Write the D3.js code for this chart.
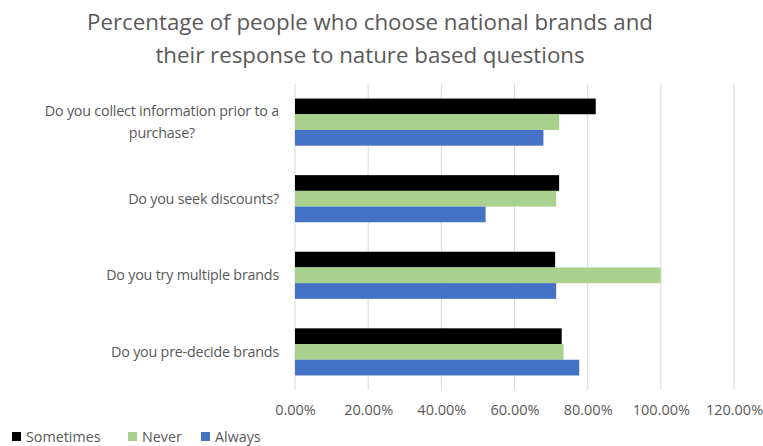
<!DOCTYPE html>
<html>
<head>
<meta charset="utf-8">
<script src="https://cdn.jsdelivr.net/npm/d3@7"></script>
<style>
  html, body { margin: 0; padding: 0; background: #fff; }
  svg { display: block; font-family: "Open Sans", "Noto Sans", sans-serif; }
</style>
</head>
<body>
<svg id="chart" width="763" height="446"></svg>
<script>
// Questions (top to bottom) and the share of each answer among national-brand buyers
const categories = [
  ["Do you collect information prior to a", "purchase?"],
  ["Do you seek discounts?"],
  ["Do you try multiple brands"],
  ["Do you pre-decide brands"]
];
const seriesNames = ["Sometimes", "Never", "Always"];
const sometimes = [0.822, 0.722, 0.711, 0.729];
const never     = [0.722, 0.714, 1.000, 0.734];
const always    = [0.679, 0.521, 0.714, 0.777];
const tickValues = [0, 0.2, 0.4, 0.6, 0.8, 1.0, 1.2];
const colors = ["#000000", "#a9d18e", "#4472c4"];
const titleLines = [
  "Percentage of people who choose national brands and",
  "their response to nature based questions"
];

const series = [sometimes, never, always];
const svg = d3.select("#chart");
const margin = { left: 295, right: 29, top: 84, bottom: 56 };
const W = 763, H = 446;

const x = d3.scaleLinear().domain([0, 1.2]).range([margin.left, W - margin.right]);
const y = d3.scaleBand().domain(d3.range(categories.length))
  .range([margin.top, H - margin.bottom]).paddingInner(0.385).paddingOuter(0.19);
const ySub = d3.scaleBand().domain(d3.range(series.length)).range([0, y.bandwidth()]);

// Title
svg.append("g").selectAll("text").data(titleLines).join("text")
  .attr("x", 370).attr("y", (d, i) => 30 + i * 33)
  .attr("text-anchor", "middle")
  .attr("fill", "#595959").attr("font-size", 22.3)
  .text(d => d);

// Vertical gridlines
svg.append("g").selectAll("line").data(tickValues).join("line")
  .attr("x1", d => x(d)).attr("x2", d => x(d))
  .attr("y1", margin.top).attr("y2", H - margin.bottom)
  .attr("stroke", "#d9d9d9").attr("stroke-width", 1);

// Bars
const groups = svg.append("g").selectAll("g").data(categories).join("g")
  .attr("transform", (d, i) => `translate(0,${y(i)})`);
groups.selectAll("rect").data((d, i) => series.map((s, j) => ({ v: s[i], j })))
  .join("rect")
  .attr("x", x(0))
  .attr("y", d => ySub(d.j))
  .attr("width", d => x(d.v) - x(0))
  .attr("height", ySub.bandwidth())
  .attr("fill", d => colors[d.j]);

// Category labels: single lines right-aligned, wrapped labels centred as a block
const labelRight = 279;
const catLabels = svg.append("g").selectAll("text").data(categories).join("text")
  .attr("fill", "#595959").attr("font-size", 14.3).attr("letter-spacing", -0.2);
catLabels.each(function (lines, i) {
  const cy = y(i) + y.bandwidth() / 2;
  const t = d3.select(this);
  const spans = lines.map((ln, k) => t.append("tspan")
    .attr("y", cy + 5 + (k - (lines.length - 1) / 2) * 21.5)
    .text(ln));
  if (lines.length === 1) {
    t.attr("text-anchor", "end");
    spans[0].attr("x", labelRight);
  } else {
    const w = d3.max(spans, s => s.node().getComputedTextLength());
    t.attr("text-anchor", "middle");
    spans.forEach(s => s.attr("x", labelRight - w / 2));
  }
});

// X axis tick labels
const fmt = d3.format(".2%");
const xAxis = d3.axisBottom(x).tickValues(tickValues).tickFormat(fmt).tickSize(0).tickPadding(0);
const ax = svg.append("g").attr("transform", `translate(0,${H - margin.bottom})`).call(xAxis);
ax.select(".domain").remove();
ax.selectAll("text")
  .attr("dy", null).attr("y", 25)
  .attr("fill", "#595959").attr("font-size", 14.5)
  .attr("font-family", "\"Open Sans\", sans-serif");

// Legend
const legendX = [12, 128, 201];
const lg = svg.append("g").selectAll("g").data(seriesNames).join("g")
  .attr("transform", (d, i) => `translate(${legendX[i]},432)`);
lg.append("rect").attr("width", 9).attr("height", 9).attr("fill", (d, i) => colors[i]);
lg.append("text").attr("x", 14).attr("y", 10)
  .attr("fill", "#595959").attr("font-size", 14.3).text(d => d);
</script>
</body>
</html>
